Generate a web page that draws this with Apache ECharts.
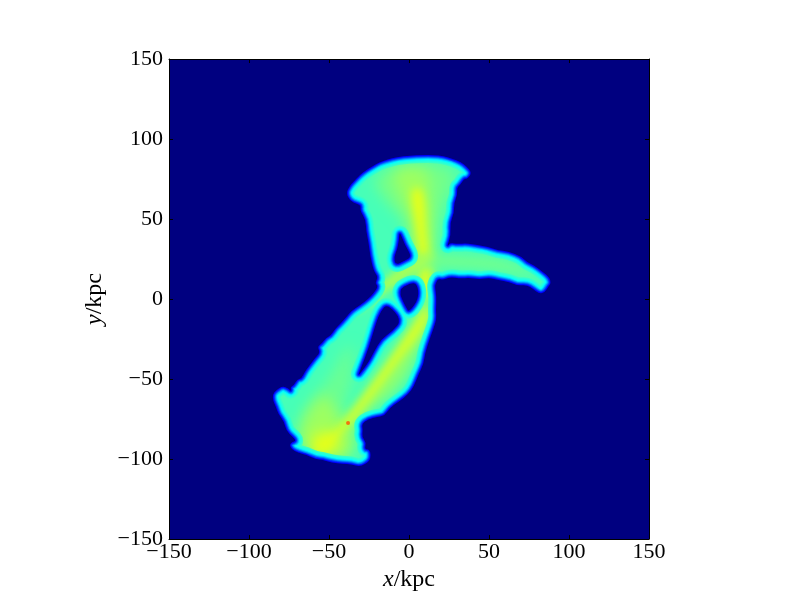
<!DOCTYPE html>
<html><head><meta charset="utf-8">
<script src="https://cdn.jsdelivr.net/npm/echarts@6/dist/echarts.min.js"></script>
<style>html,body{margin:0;background:#fff}#c{width:800px;height:600px}</style></head>
<body><div id="c"></div>
<script>
// density outlines, in kpc
const outline=[[-38.1,66.3],[-36,70],[-33.8,72.5],[-30,76.5],[-26.3,79.4],[-22,82],[-18.1,84.4],[-13,86],[-7.5,87.5],[1,88.5],[8.8,88.8],[15,88.8],[21.3,88.1],[27,86.5],[31.9,84.4],[35,82],[38.1,78.8],[36,76],[33.8,76.3],[31,72],[28.8,70],[29,65],[26.9,60],[27,54],[24.4,47.5],[25,40],[22.5,32.5],[26,34],[30,33.1],[36,33.6],[42.5,32.5],[49,31.5],[55,29.4],[62,28.5],[69.4,25.6],[73,22],[77.5,20],[83,16],[86.9,12.5],[87.5,10],[86.3,8.8],[84,5],[81.9,4.4],[78,7.5],[73.8,10],[68,9.5],[63.1,11.9],[56,13],[50.6,14.4],[44,13.5],[38.1,14.4],[32,14],[25.6,15],[21,13],[17.5,13.8],[15.5,10],[15,7.5],[16,1],[15.6,-6.9],[16,-12],[14.4,-17.5],[12,-24],[8.8,-33.8],[8,-40],[5,-46.3],[2,-54],[-1.3,-58.8],[-7,-63],[-13.1,-67.5],[-16,-72],[-20,-72.5],[-26,-74],[-30.6,-77.5],[-30,-82],[-30.6,-86.3],[-28,-90],[-28.8,-94.4],[-25.5,-95],[-25,-97.5],[-25.6,-100.6],[-30.6,-103.8],[-36,-102],[-41.3,-101.9],[-48,-101],[-53.8,-99.4],[-58,-99],[-63.8,-96.3],[-69,-95],[-72.5,-93.1],[-73.5,-91],[-72.5,-90.6],[-69.4,-88.8],[-72,-85],[-75.6,-81.9],[-77,-76],[-80.6,-71.3],[-82,-67],[-83.8,-63.1],[-84,-60],[-82.5,-58.1],[-78.8,-55.6],[-76,-57],[-73.1,-58.8],[-73,-55.5],[-71.3,-55],[-69,-51],[-66.3,-50.6],[-64,-46],[-61.9,-43.1],[-58,-38],[-54.4,-33.8],[-56,-30],[-53.8,-28.8],[-51,-25],[-48.1,-23.8],[-45,-19],[-43.1,-17.5],[-39,-13],[-35,-8.1],[-30,-5],[-24.4,-0.6],[-21,3],[-18.1,7.5],[-20,10],[-18.1,13.8],[-21,18],[-23.1,27.5],[-24,35],[-25.6,43.1],[-26,50],[-29.4,55.6],[-29,59],[-31.9,60.6],[-36,62]];
const holeUpper=[[-5.6,43.1],[-2,34],[2.5,26.3],[-3,23],[-8.8,20.6],[-10,26.3],[-8,31],[-6.9,36.9]];
const holeMiddle=[[-7.5,5.6],[0.6,10.6],[5.6,10],[6.9,0.6],[0.6,-8.8],[-2.5,-5.6]];
const holeLower=[[-18.1,-6.9],[-13.1,-2.5],[-3.8,-13.1],[-10,-20.6],[-16.9,-25.6],[-21.3,-33.1],[-24.4,-39.4],[-31.9,-49.4],[-30.6,-43.1],[-25.6,-30],[-21.3,-15]];
// brighter density regions
const fanMid=[[-21.3,74.4],[-5.6,83.1],[19.4,83.8],[28.8,77.5],[19.4,52.5],[14.4,24.4],[11.9,-0.6],[3.8,8.8],[-2.5,46.3],[-15,61.9]];
const fanCore=[[-8.8,79.4],[10,80.6],[13.1,65],[14.4,43.8],[14.4,8.8],[9.4,-0.6],[5.6,18.1],[1.9,49.4],[-5.6,65]];
const stemRidge=[[2,68],[8,68],[10.6,43.1],[13.1,8.8],[10.6,-0.6],[8.1,5.6],[6.9,24.4],[4,46]];
const armMid=[[-11.9,11.9],[6.9,25.6],[38.1,26.9],[63.1,23.1],[78.8,13.1],[60.6,16.9],[25.6,19.4],[3.8,18.1],[-15,5.6]];
const arcCore=[[-33.8,-8.1],[-15,11.9],[6.9,25.6],[16.3,27.5],[6.9,19.4],[-8.8,8.8],[-25.6,-3.8]];
const lobeMid=[[10,-0.6],[13.1,-8.1],[6.9,-28.8],[-5.6,-53.8],[-27.5,-72.5],[-46.3,-91.3],[-55.6,-94.4],[-40,-75.6],[-15,-41.3],[3.8,-13.1]];
const lobeRidge=[[11.9,-3.8],[10,-16.3],[-5.6,-38.1],[-24.4,-63.1],[-40,-81.9],[-52.5,-94.4],[-58.8,-94.4],[-43.1,-78.8],[-21.3,-50.6],[0.6,-19.4]];
const leftLobe=[[-36.9,-28.8],[-49.4,-47.5],[-68.1,-75.6],[-61.9,-91.3],[-40,-97.5],[-33.8,-81.9],[-40,-72.5],[-35.6,-47.5]];
const leftCore=[[-52.5,-60],[-68.1,-81.9],[-61.9,-94.4],[-40,-99.4],[-35.6,-88.1],[-40,-78.8],[-46.3,-69.4]];
const peak=[[-61.9,-91.3],[-54.4,-83.1],[-43.1,-88.1],[-48.1,-95.6],[-56.9,-97.5]];
const hotSpot=[[-38.1,-77.5]];
// polygon, value on the colour scale 0..1
const regions=[[fanMid,0.49],[fanCore,0.53],[stemRidge,0.60],[armMid,0.485],[arcCore,0.55],[leftLobe,0.48],[leftCore,0.53],[lobeMid,0.51],[lobeRidge,0.59],[peak,0.60]];
const regionBlur=[14,14,8,10,8,14,14,10,8,14];
const baseLevel=0.445;
const rimLevels=[[16,0.43],[14,0.415],[12,0.40],[10,0.37],[8,0.32],[6,0.25],[4,0.18],[2,0.125],[0,0]];

// jet colour scale
function jet(v){
  const c=t=>Math.round(255*Math.max(0,Math.min(1,1.5-Math.abs(4*v-t))));
  return 'rgb('+c(3)+','+c(2)+','+c(1)+')';
}
const minus=v=>String(v).replace('-','\u2212');
const FONT='"Liberation Serif","DejaVu Serif",serif';

function area(p){let s=0;for(let i=0;i<p.length;i++){const a=p[i],b=p[(i+1)%p.length];s+=a[0]*b[1]-b[0]*a[1];}return s;}
// the drawn edge sits a little outside the traced contour
function grow(p,d){
  const sign=area(p)>0?1:-1,n=p.length;
  return p.map((c,i)=>{
    const a=p[(i-1+n)%n],b=p[(i+1)%n];let tx=b[0]-a[0],ty=b[1]-a[1];const l=Math.hypot(tx,ty)||1;
    return [c[0]+sign*d*ty/l,c[1]-sign*d*tx/l];
  });
}
function smoothRing(p,api,positive){
  const q=((area(p)>0)===positive?p:p.slice().reverse()).map(d=>api.coord(d)),n=q.length;
  const mid=(a,b)=>[(a[0]+b[0])/2,(a[1]+b[1])/2];
  const m0=mid(q[n-1],q[0]);let s='M'+m0[0].toFixed(2)+' '+m0[1].toFixed(2);
  for(let i=0;i<n;i++){const m=mid(q[i],q[(i+1)%n]);s+=' Q'+q[i][0].toFixed(2)+' '+q[i][1].toFixed(2)+' '+m[0].toFixed(2)+' '+m[1].toFixed(2);}
  return s+' Z';
}
function ring(p,api,positive){
  const q=(area(p)>0)===positive?p:p.slice().reverse();
  return q.map((d,i)=>{const c=api.coord(d);return (i?'L':'M')+c[0].toFixed(2)+' '+c[1].toFixed(2);}).join(' ')+' Z';
}
const corners=[[-150,-150],[150,-150],[150,150],[-150,150]];
const OFF=3000;
const layers=[{kind:'base'}].concat(regions.map((r,i)=>({kind:'region',pts:r[0],v:r[1],blur:regionBlur[i]})),rimLevels.map(r=>({kind:'mask',w:r[0],v:r[1]})));

function renderItem(params,api){
  const L=layers[api.value(0)];
  const a=api.coord([-150,150]),b=api.coord([150,-150]);
  if(L.kind==='base'){
    return {type:'rect',shape:{x:a[0],y:a[1],width:b[0]-a[0],height:b[1]-a[1]},style:{fill:jet(baseLevel)}};
  }
  if(L.kind==='region'){
    // only the blurred shadow of the region lands in the plot
    return {type:'polygon',shape:{points:L.pts.map(d=>{const c=api.coord(d);return [c[0]-OFF,c[1]];}),smooth:0.4},
      style:{fill:'#000',shadowBlur:L.blur,shadowColor:jet(L.v),shadowOffsetX:OFF,shadowOffsetY:0}};
  }
  const d=ring(corners,api,true)+' '+smoothRing(grow(outline,1.2),api,false)+' '+smoothRing(grow(holeUpper,-0.6),api,true)+' '+smoothRing(grow(holeMiddle,-0.6),api,true)+' '+smoothRing(grow(holeLower,-0.6),api,true);
  return {type:'path',shape:{pathData:d,x:a[0],y:a[1],width:b[0]-a[0],height:b[1]-a[1],layout:'cover'},
    style:{fill:jet(L.v),stroke:L.w?jet(L.v):null,lineWidth:L.w,lineJoin:'round'}};
}

const tickStyle={show:true,inside:true,length:4,lineStyle:{color:'#000',width:1}};
const lineStyle={show:true,onZero:false,lineStyle:{color:'#000',width:1}};
const chart=echarts.init(document.getElementById('c'),null,{renderer:'canvas'});
function axis(extra){return Object.assign({type:'value',min:-150,max:150,interval:50,z:6,splitLine:{show:false},axisLine:lineStyle,axisTick:tickStyle},extra);}
const labelStyle={fontFamily:FONT,fontSize:22,color:'#000',formatter:minus};
const nameStyle={fontFamily:FONT,fontSize:24,color:'#000',rich:{i:{fontFamily:FONT,fontSize:24,fontStyle:'italic',color:'#000'},r:{fontFamily:FONT,fontSize:24,color:'#000'}}};
chart.setOption({
  animation:false,backgroundColor:'#fff',
  grid:{left:169,top:59,width:480,height:480,outerBoundsMode:'none'},
  xAxis:[axis({position:'bottom',name:'{i|x}{r|/kpc}',nameLocation:'middle',nameGap:28,nameTextStyle:nameStyle,axisLabel:Object.assign({margin:2,showMinLabel:true,showMaxLabel:true},labelStyle)}),
         axis({position:'top',axisLabel:{show:false}})],
  yAxis:[axis({position:'left',name:'{i|y}{r|/kpc}',nameLocation:'middle',nameGap:60,nameTextStyle:nameStyle,axisLabel:Object.assign({margin:6,showMinLabel:true,showMaxLabel:true},labelStyle)}),
         axis({position:'right',axisLabel:{show:false}})],
  series:[
    {type:'custom',clip:true,silent:true,z:2,renderItem:renderItem,data:layers.map((l,i)=>[i])},
    {type:'scatter',silent:true,z:3,symbolSize:4,itemStyle:{color:'#ff5000'},data:hotSpot}
  ]
});
</script></body></html>
